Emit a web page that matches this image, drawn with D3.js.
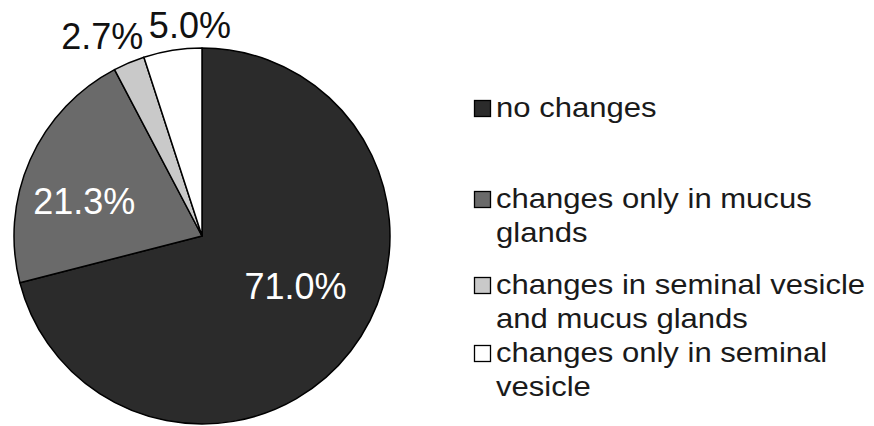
<!DOCTYPE html>
<html>
<head>
<meta charset="utf-8">
<script src="https://cdn.jsdelivr.net/npm/d3@7"></script>
<style>
  html, body { margin: 0; padding: 0; background: #fff; }
  svg { display: block; }
</style>
</head>
<body>
<svg id="chart" width="874" height="426"></svg>
<script>
// ---- data ----
const categories = [
  "no changes",
  "changes only in mucus glands",
  "changes in seminal vesicle and mucus glands",
  "changes only in seminal vesicle"
];
const values = [71.0, 21.3, 2.7, 5.0];
const valueLabels = ["71.0%", "21.3%", "2.7%", "5.0%"];
const legendLines = [
  ["no changes"],
  ["changes only in mucus", "glands"],
  ["changes in seminal vesicle", "and mucus glands"],
  ["changes only in seminal", "vesicle"]
];
const colors = ["#2b2b2b", "#6a6a6a", "#c9c9c9", "#ffffff"];

// ---- layout ----
const W = 874, H = 426;
const cx = 202, cy = 236, R = 188;
const font = "'Liberation Sans', Arial, Helvetica, sans-serif";

const svg = d3.select("#chart");
const data = categories.map((c, i) => ({ cat: c, value: values[i], label: valueLabels[i], color: colors[i], idx: i }));

const pie = d3.pie().sort(null).value(d => d.value);
const arcs = pie(data);
const arc = d3.arc().innerRadius(0).outerRadius(R);

const g = svg.append("g").attr("transform", `translate(${cx},${cy})`);
g.selectAll("path.slice")
  .data(arcs)
  .enter().append("path")
  .attr("class", "slice")
  .attr("d", arc)
  .attr("fill", d => d.data.color)
  .attr("stroke", "#000")
  .attr("stroke-width", 1.5)
  .attr("stroke-linejoin", "round");

// labels: inside for big slices, outside for small ones
const insideArc = d3.arc().innerRadius(0).outerRadius(R * 1.15);
const outsideArc = d3.arc().innerRadius(R + 30).outerRadius(R + 30);
const labelAdjust = [[8, -16], [-19, 9], [-15, 1], [22, 4]];
g.selectAll("text.val")
  .data(arcs)
  .enter().append("text")
  .attr("class", "val")
  .attr("transform", (d, i) => {
    const inside = d.data.value > 10;
    const c = inside ? insideArc.centroid(d) : outsideArc.centroid(d);
    return `translate(${c[0] + labelAdjust[i][0]},${c[1] + labelAdjust[i][1]})`;
  })
  .attr("text-anchor", "middle")
  .attr("dy", "0.36em")
  .attr("font-family", font)
  .attr("font-size", 36)
  .attr("fill", d => d.data.value > 10 ? "#ffffff" : "#111111")
  .text(d => d.data.label);

// legend
const legendBaselines = [117, 208, 294, 362];
const lineGap = 34;
const lg = svg.append("g");
data.forEach((d, i) => {
  const y = legendBaselines[i];
  lg.append("rect")
    .attr("x", 474.5).attr("y", y - 16.5)
    .attr("width", 16).attr("height", 16)
    .attr("fill", d.color)
    .attr("stroke", "#000").attr("stroke-width", 1.3);
  legendLines[i].forEach((line, j) => {
    lg.append("text")
      .attr("transform", `translate(496,${y + j * lineGap}) scale(1.15,1)`)
      .attr("font-family", font)
      .attr("font-size", 27)
      .attr("fill", "#1a1a1a")
      .text(line);
  });
});
</script>
</body>
</html>
